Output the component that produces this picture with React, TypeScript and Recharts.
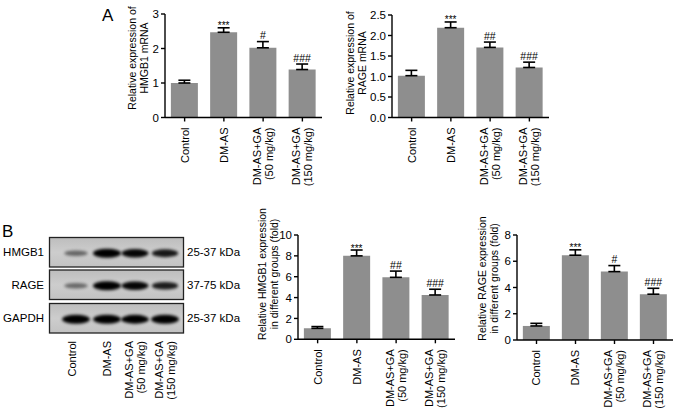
import { BarChart, Bar, XAxis, YAxis, ErrorBar, LabelList } from "recharts";

const GROUPS = ["Control", "DM-AS", "DM-AS+GA\n(50 mg/kg)", "DM-AS+GA\n(150 mg/kg)"];

const HMGB1_MRNA = [1.0, 2.47, 2.02, 1.39];
const HMGB1_MRNA_ERR = [0.08, 0.13, 0.18, 0.16];
const HMGB1_MRNA_SIG = ["", "***", "#", "###"];

const RAGE_MRNA = [1.02, 2.19, 1.71, 1.22];
const RAGE_MRNA_ERR = [0.13, 0.14, 0.13, 0.13];
const RAGE_MRNA_SIG = ["", "***", "##", "###"];

const HMGB1_PROT = [1.05, 8.0, 5.94, 4.25];
const HMGB1_PROT_ERR = [0.17, 0.56, 0.6, 0.55];
const HMGB1_PROT_SIG = ["", "***", "##", "###"];

const RAGE_PROT = [1.07, 6.46, 5.21, 3.49];
const RAGE_PROT_ERR = [0.2, 0.41, 0.46, 0.45];
const RAGE_PROT_SIG = ["", "***", "#", "###"];

// western blot band strength per lane (0..1)
const BLOT_ROWS = ["HMGB1", "RAGE", "GAPDH"];
const BLOT_KDA = ["25-37 kDa", "37-75 kDa", "25-37 kDa"];
const HMGB1_BANDS = [0.3, 1, 0.85, 0.75];
const RAGE_BANDS = [0.28, 1, 0.85, 0.72];
const GAPDH_BANDS = [0.95, 0.95, 0.93, 0.95];

const FONT = '"Liberation Sans", Arial, sans-serif';
const BAR_FILL = "#8e8e8e";
const INK = "#000";

type Cfg = {
  axisX: number;
  topY: number;
  zeroY: number;
  plotW: number;
  max: number;
  ticks: number[];
  decimals: number;
  values: number[];
  errs: number[];
  sig: string[];
};

const GroupTick = (props: any) => {
  const { x, y, payload } = props;
  const lines = String(payload.value).split("\n");
  const fs = 11;
  const lh = 12;
  return (
    <g transform={`translate(${x},${y})`}>
      {lines.map((l, i) => (
        <text
          key={i}
          transform="rotate(-90)"
          x={-2}
          y={fs * 0.36 + (i - (lines.length - 1) / 2) * lh}
          textAnchor="end"
          fontSize={fs}
          fontFamily={FONT}
          fill={INK}
        >
          {l}
        </text>
      ))}
    </g>
  );
};

function GroupBars({ cfg }: { cfg: Cfg }) {
  const mt = 14;
  const yw = 60;
  const xh = 90;
  const mr = 8;
  const data = GROUPS.map((g, i) => ({
    name: g,
    value: cfg.values[i],
    err: [0, cfg.errs[i]],
    key: "i" + i,
  }));
  const sigLabel = (p: any) => {
    const i = Number(String(p.value).slice(1));
    const s = cfg.sig[i];
    if (!s) return null;
    const pxPerUnit = p.height / cfg.values[i];
    const top = p.y - cfg.errs[i] * pxPerUnit;
    const stars = s.startsWith("*");
    return (
      <text
        x={p.x + p.width / 2}
        y={stars ? top + 1.5 : top - 2.5}
        textAnchor="middle"
        fontSize={stars ? 10 : 10.5}
        fontFamily={FONT}
        fill={INK}
      >
        {s}
      </text>
    );
  };
  return (
    <div
      style={{
        position: "absolute",
        left: cfg.axisX - yw,
        top: cfg.topY - mt,
      }}
    >
      <BarChart
        width={yw + cfg.plotW + mr}
        height={mt + (cfg.zeroY - cfg.topY) + xh}
        data={data}
        margin={{ top: mt, right: mr, left: 0, bottom: 0 }}
        barCategoryGap="15%"
      >
        <XAxis
          dataKey="name"
          height={xh}
          interval={0}
          tickSize={4}
          tickMargin={4}
          axisLine={{ stroke: INK, strokeWidth: 1.4 }}
          tickLine={{ stroke: INK, strokeWidth: 1.4 }}
          tick={<GroupTick />}
        />
        <YAxis
          width={yw}
          domain={[0, cfg.max]}
          ticks={cfg.ticks}
          allowDataOverflow
          tickSize={4}
          tickMargin={2}
          axisLine={{ stroke: INK, strokeWidth: 1.4 }}
          tickLine={{ stroke: INK, strokeWidth: 1.4 }}
          tick={{ fill: INK, fontSize: 11.5, fontFamily: FONT }}
          tickFormatter={(v: number) => v.toFixed(cfg.decimals)}
        />
        <Bar dataKey="value" fill={BAR_FILL} isAnimationActive={false}>
          <ErrorBar
            dataKey="err"
            width={6}
            stroke={INK}
            strokeWidth={1.6}
            isAnimationActive={false}
          />
          <LabelList dataKey="key" content={sigLabel} />
        </Bar>
      </BarChart>
    </div>
  );
}

const CHARTS: { cfg: Cfg; title: string[]; tx: number[]; ty: number }[] = [
  {
    cfg: {
      axisX: 165, topY: 13.5, zeroY: 117, plotW: 157, max: 3, ticks: [0, 1, 2, 3], decimals: 0,
      values: HMGB1_MRNA, errs: HMGB1_MRNA_ERR, sig: HMGB1_MRNA_SIG,
    },
    title: ["Relative expression of", "HMGB1 mRNA"],
    tx: [132, 144],
    ty: 58,
  },
  {
    cfg: {
      axisX: 391.7, topY: 15, zeroY: 117.5, plotW: 157, max: 2.5, ticks: [0, 0.5, 1, 1.5, 2, 2.5], decimals: 1,
      values: RAGE_MRNA, errs: RAGE_MRNA_ERR, sig: RAGE_MRNA_SIG,
    },
    title: ["Relative expression of", "RAGE mRNA"],
    tx: [350, 362],
    ty: 63,
  },
  {
    cfg: {
      axisX: 298, topY: 235, zeroY: 339.3, plotW: 157, max: 10, ticks: [0, 2, 4, 6, 8, 10], decimals: 0,
      values: HMGB1_PROT, errs: HMGB1_PROT_ERR, sig: HMGB1_PROT_SIG,
    },
    title: ["Relative HMGB1 expression", "in different groups (fold)"],
    tx: [262, 274],
    ty: 274,
  },
  {
    cfg: {
      axisX: 516.7, topY: 235, zeroY: 340, plotW: 156, max: 8, ticks: [0, 2, 4, 6, 8], decimals: 0,
      values: RAGE_PROT, errs: RAGE_PROT_ERR, sig: RAGE_PROT_SIG,
    },
    title: ["Relative RAGE expression", "in different groups (fold)"],
    tx: [482, 494],
    ty: 278.5,
  },
];

const LANE_X = [76, 107, 135, 165];
const BOX_Y = [237.5, 270, 303.5];
const BOX_H = 29.5;

function Blot() {
  const bands = [HMGB1_BANDS, RAGE_BANDS, GAPDH_BANDS];
  return (
    <g>
      <defs>
        <filter id="blur" x="-50%" y="-100%" width="200%" height="300%">
          <feGaussianBlur stdDeviation="1.6" />
        </filter>
        <linearGradient id="mem" x1="0" y1="0" x2="0" y2="1">
          <stop offset="0" stopColor="#bdbdbd" />
          <stop offset="0.5" stopColor="#cdcdcd" />
          <stop offset="1" stopColor="#c2c2c2" />
        </linearGradient>
      </defs>
      {BOX_Y.map((by, r) => (
        <g key={r}>
          <rect x={49.5} y={by} width={134} height={BOX_H} fill="url(#mem)" stroke="#222" strokeWidth={1.3} />
          {bands[r].map((s, i) => (
            <ellipse
              key={i}
              cx={LANE_X[i]}
              cy={by + BOX_H / 2 + 1}
              rx={11 + s * 3}
              ry={2 + s * 2.6}
              fill="#000"
              opacity={Math.min(1, 0.25 + s * 0.85)}
              filter="url(#blur)"
            />
          ))}
          <text x={44} y={by + BOX_H / 2 + 4} textAnchor="end" fontSize={11.5} fontFamily={FONT} fill={INK}>
            {BLOT_ROWS[r]}
          </text>
          <text x={187} y={by + BOX_H / 2 + 4} fontSize={11.5} fontFamily={FONT} fill={INK}>
            {BLOT_KDA[r]}
          </text>
        </g>
      ))}
      {GROUPS.map((g, i) => {
        const lines = g.split("\n");
        return (
          <g key={g} transform={`translate(${LANE_X[i] - (i === 0 ? 4 : 0)},341)`}>
            {lines.map((l, j) => (
              <text
                key={j}
                transform="rotate(-90)"
                x={0}
                y={11 * 0.36 + (j - (lines.length - 1) / 2) * 12}
                textAnchor="end"
                fontSize={11}
                fontFamily={FONT}
                fill={INK}
              >
                {l}
              </text>
            ))}
          </g>
        );
      })}
    </g>
  );
}

export default function App() {
  return (
    <div
      style={{
        position: "absolute",
        left: 0,
        top: 0,
        width: 677,
        height: 409,
        background: "#fff",
        fontFamily: FONT,
        overflow: "hidden",
      }}
    >
      {CHARTS.map((c, i) => (
        <GroupBars key={i} cfg={c.cfg} />
      ))}
      <svg
        width={677}
        height={409}
        style={{ position: "absolute", left: 0, top: 0, pointerEvents: "none" }}
      >
        <text x={102} y={21} fontSize={17} fontFamily={FONT} fill={INK}>A</text>
        <text x={2} y={237} fontSize={17} fontFamily={FONT} fill={INK}>B</text>
        {CHARTS.map((c, i) =>
          c.title.map((t, j) => (
            <text
              key={i + "-" + j}
              transform={`translate(${c.tx[j] + 3.8},${c.ty}) rotate(-90)`}
              textAnchor="middle"
              fontSize={10.5}
              fontFamily={FONT}
              fill={INK}
            >
              {t}
            </text>
          ))
        )}
        <Blot />
      </svg>
    </div>
  );
}
